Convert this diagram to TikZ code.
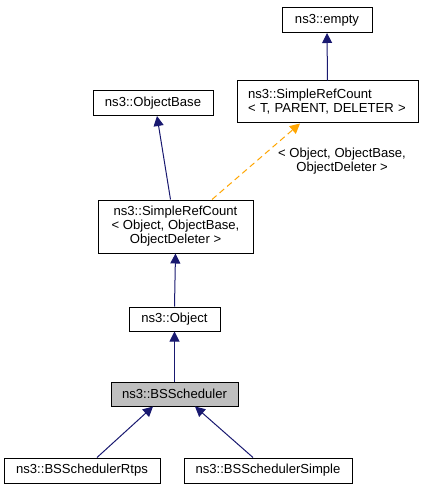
\documentclass[tikz,border=0pt]{standalone}
\usepackage{fontspec}
\setmainfont{Liberation Sans}
\usetikzlibrary{arrows.meta}
\definecolor{edgeblue}{HTML}{191970}
\definecolor{edgeorange}{HTML}{FFA500}
\definecolor{hlgray}{HTML}{BFBFBF}
\begin{document}
\begin{tikzpicture}[x=1pt,y=-1pt,
  every node/.style={font=\fontsize{13.1}{15}\selectfont},
  cls/.style={draw=black, line width=1pt, fill=white, inner sep=0pt, align=center},
  inh/.style={draw=edgeblue, line width=1pt, -{Triangle[length=10pt,width=10pt]}},
  tmpl/.style={draw=edgeorange, line width=1pt, dash pattern=on 6pt off 4pt, -{Triangle[length=10pt,width=10pt]}},
  lbltext/.style={inner sep=0pt, align=center}
]
\useasboundingbox (0,0) rectangle (424,489);

\node[cls, minimum width=90pt, minimum height=25pt] (empty) at (327,20) {ns3::empty};
\node[cls, minimum width=181pt, minimum height=42pt, text width=167pt, inner xsep=7pt, inner ysep=0pt, align=left] (srct) at (327.5,102) {\hspace*{4pt}ns3::SimpleRefCount\\[-1pt]\hspace*{4pt}{<} T, PARENT, DELETER {>}};
\node[cls, minimum width=120pt, minimum height=25pt] (objbase) at (153,103) {ns3::ObjectBase};
\node[cls, minimum width=155pt, minimum height=53pt] (srcobj) at (175.5,226.5) {ns3::SimpleRefCount\\[-1pt]{<} Object, ObjectBase,\\[-1pt]ObjectDeleter {>}};
\node[cls, minimum width=91pt, minimum height=24pt] (object) at (174.5,319) {ns3::Object};
\node[cls, fill=hlgray, minimum width=127pt, minimum height=24pt] (bss) at (174.5,394) {ns3::BSScheduler};
\node[cls, minimum width=156pt, minimum height=25pt] (rtps) at (82,470.5) {ns3::BSSchedulerRtps};
\node[cls, minimum width=168pt, minimum height=25pt] (simple) at (268,470.5) {ns3::BSSchedulerSimple};

\node[lbltext] (lbl) at (342,161) {{<} Object, ObjectBase,\\[-1pt]ObjectDeleter {>}};

\draw[inh] (srct.north) -- (empty.south);
\draw[inh] ([xshift=-5pt]srcobj.north) -- ([xshift=4pt]objbase.south);
\draw[tmpl] ([xshift=36.5pt]srcobj.north) -- ([xshift=-27.5pt]srct.south);
\draw[inh] (object.north) -- (srcobj.south);
\draw[inh] (bss.north) -- (object.south);
\draw[inh] ([xshift=15pt]rtps.north) -- ([xshift=-21.5pt]bss.south);
\draw[inh] ([xshift=-15pt]simple.north) -- ([xshift=20.5pt]bss.south);
\end{tikzpicture}
\end{document}
